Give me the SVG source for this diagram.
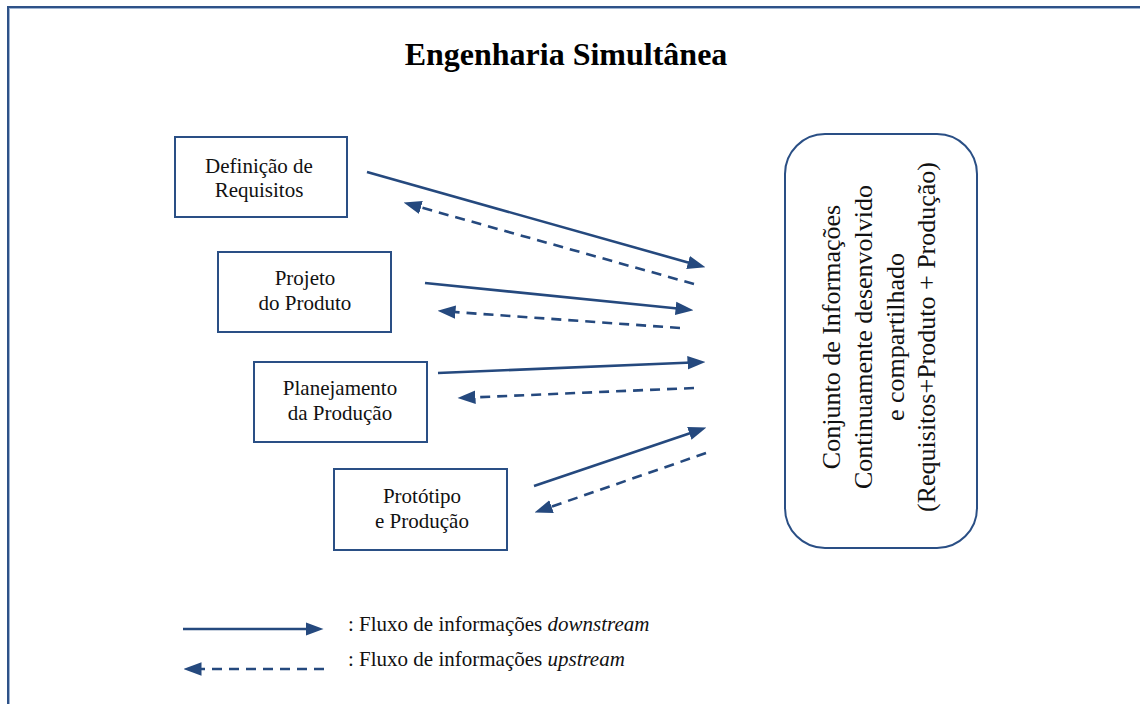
<svg xmlns="http://www.w3.org/2000/svg" width="1140" height="704" viewBox="0 0 1140 704">
  <defs>
    <style>
      .frame { fill: none; stroke: #2e5288; stroke-width: 2; }
      .frame-in { fill: none; stroke: #9fb4d2; stroke-width: 1; }
      .box { fill: #ffffff; stroke: #2a4f85; stroke-width: 2; }
      .lbl { font-family: "Liberation Serif", "Times New Roman", serif; font-size: 21px; fill: #111; text-anchor: middle; }
      .title { font-family: "Liberation Serif", "Times New Roman", serif; font-size: 32px; font-weight: bold; fill: #000; text-anchor: middle; }
      .vert { font-family: "Liberation Serif", "Times New Roman", serif; font-size: 26px; fill: #111; text-anchor: middle; }
      .legend { font-family: "Liberation Serif", "Times New Roman", serif; font-size: 21px; fill: #111; }
      .down { fill: none; stroke: #25497e; stroke-width: 2.6; marker-end: url(#head); }
      .up { fill: none; stroke: #25497e; stroke-width: 2.6; stroke-dasharray: 10 7; marker-end: url(#head); }
    </style>
    <marker id="head" markerUnits="userSpaceOnUse" markerWidth="18" markerHeight="14" viewBox="0 0 16 12" refX="4" refY="6" orient="auto">
      <path d="M0,0 L16,6 L0,12 Z" fill="#25497e"/>
    </marker>
  </defs>

  <rect width="1140" height="704" fill="#ffffff"/>

  <!-- outer frame (runs past the right and bottom edges) -->
  <rect class="frame" x="8" y="7" width="1160" height="730"/>
  <rect class="frame-in" x="9.5" y="8.5" width="1160" height="730"/>

  <text class="title" x="566" y="65">Engenharia Simultânea</text>

  <g id="definicao-requisitos">
    <rect class="box" x="175" y="137" width="172" height="80"/>
    <text class="lbl" x="259" y="173">Definição de</text>
    <text class="lbl" x="259" y="197">Requisitos</text>
  </g>

  <g id="projeto-produto">
    <rect class="box" x="218" y="252" width="173" height="80"/>
    <text class="lbl" x="305" y="285">Projeto</text>
    <text class="lbl" x="305" y="310">do Produto</text>
  </g>

  <g id="planejamento-producao">
    <rect class="box" x="254" y="362" width="173" height="80"/>
    <text class="lbl" x="340" y="395">Planejamento</text>
    <text class="lbl" x="340" y="420">da Produção</text>
  </g>

  <g id="prototipo-producao">
    <rect class="box" x="334" y="469" width="173" height="81"/>
    <text class="lbl" x="422" y="503">Protótipo</text>
    <text class="lbl" x="422" y="528">e Produção</text>
  </g>

  <g id="conjunto-informacoes">
    <rect class="box" x="785" y="134" width="192" height="414" rx="40" ry="40"/>
    <g transform="translate(0,337) rotate(-90)">
      <text class="vert" x="0" y="840">Conjunto de Informações</text>
      <text class="vert" x="0" y="872">Continuamente desenvolvido</text>
      <text class="vert" x="0" y="904">e compartilhado</text>
      <text class="vert" x="0" y="935">(Requisitos+Produto + Produção)</text>
    </g>
  </g>

  <g id="connectors">
    <!-- downstream (solid) -->
    <line class="down" x1="367" y1="172" x2="692.4" y2="263.7"/>
    <line class="down" x1="425" y1="283" x2="680.1" y2="308.8"/>
    <line class="down" x1="438" y1="373" x2="692.0" y2="362.5"/>
    <line class="down" x1="534" y1="486" x2="693.6" y2="431.9"/>
    <!-- upstream (dashed) -->
    <line class="up" x1="694" y1="284" x2="416.6" y2="206.2"/>
    <line class="up" x1="680" y1="328" x2="451.0" y2="311.8"/>
    <line class="up" x1="694" y1="388" x2="471.0" y2="397.5"/>
    <line class="up" x1="706" y1="453" x2="547.3" y2="508.1"/>
  </g>

  <g id="legend">
    <line class="down" x1="183" y1="629" x2="310" y2="629"/>
    <line class="up" x1="324" y1="669" x2="197" y2="669"/>
    <text class="legend" x="348" y="631">: Fluxo de informações <tspan font-style="italic">downstream</tspan></text>
    <text class="legend" x="348" y="666">: Fluxo de informações <tspan font-style="italic">upstream</tspan></text>
  </g>
</svg>
